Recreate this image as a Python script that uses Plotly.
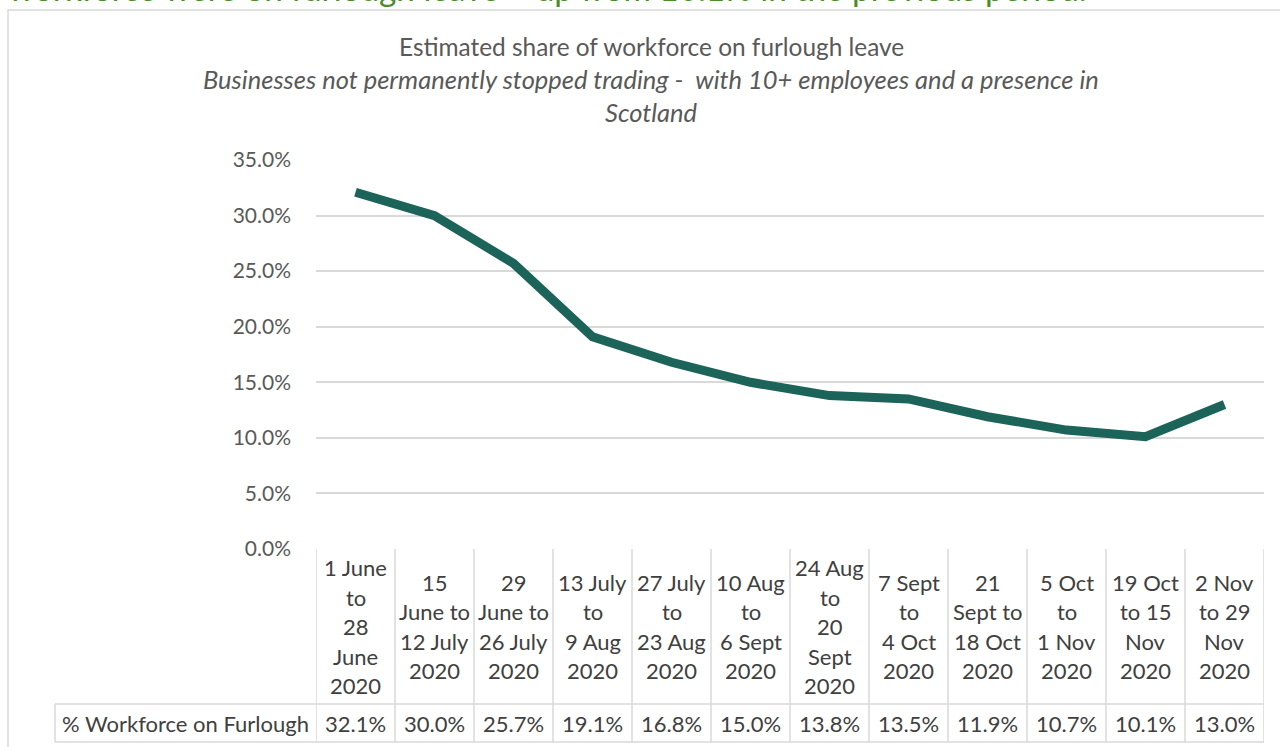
import plotly.graph_objects as go

# Reporting periods (each line of a table header cell separated by "|")
periods = [
    "1 June|to|28|June|2020",
    "15|June to|12 July|2020",
    "29|June to|26 July|2020",
    "13 July|to|9 Aug|2020",
    "27 July|to|23 Aug|2020",
    "10 Aug|to|6 Sept|2020",
    "24 Aug|to|20|Sept|2020",
    "7 Sept|to|4 Oct|2020",
    "21|Sept to|18 Oct|2020",
    "5 Oct|to|1 Nov|2020",
    "19 Oct|to 15|Nov|2020",
    "2 Nov|to 29|Nov|2020",
]
furlough_pct = [32.1, 30.0, 25.7, 19.1, 16.8, 15.0, 13.8, 13.5, 11.9, 10.7, 10.1, 13.0]
series_name = "% Workforce on Furlough"
y_ticks = [0, 5, 10, 15, 20, 25, 30, 35]

headline = "workforce were on furlough leave \u2013 up from 10.1% in the previous period."
title = "Estimated share of workforce on furlough leave"
subtitle_lines = [
    "Businesses not permanently stopped trading -  with 10+ employees and a presence in",
    "Scotland",
]

W, H = 1280, 747
L, R, T, B = 316, 16, 160, 198
PLOT_H = H - T - B
PLOT_W = W - L - R
FONT = "Lato"
GRID = "#d9d9d9"
TXT = "#595959"
TABLE_TXT = "#404040"
LINE = "#1c6359"
TABLE_SIZE = 22


def py(px):
    """Pixel row -> paper y."""
    return (H - B - px) / PLOT_H


def pxx(px):
    """Pixel column -> paper x."""
    return (px - L) / PLOT_W


cats = [p.replace("|", " ") for p in periods]

fig = go.Figure()
fig.add_trace(go.Scatter(
    x=list(range(len(cats))), y=furlough_pct, mode="lines", name=series_name,
    line=dict(color=LINE, width=9, shape="linear"),
    hoverinfo="skip", showlegend=False,
))

annotations = []
shapes = []

# Headline text running off the top of the page
annotations.append(dict(
    text=headline, xref="paper", yref="paper", x=pxx(6), y=py(10),
    xanchor="left", yanchor="bottom", showarrow=False,
    font=dict(family=FONT, size=33.3, color="#4b8b2b"),
))

# Chart title and italic subtitle
cx = pxx(651)
annotations.append(dict(
    text=title, xref="paper", yref="paper", x=cx, y=py(46),
    xanchor="center", yanchor="middle", showarrow=False,
    font=dict(family=FONT, size=24.4, color=TXT),
))
for i, line in enumerate(subtitle_lines):
    annotations.append(dict(
        text="<i>" + line + "</i>", xref="paper", yref="paper", x=cx, y=py(79 + 33 * i),
        xanchor="center", yanchor="middle", showarrow=False,
        font=dict(family=FONT, size=25.5, color=TXT),
    ))

# Data table under the plot: header row of periods, one row of values
HDR_TOP, HDR_BOT, ROW_BOT = 549, 704, 742
LINE_GAP = 29.5
hdr_mid = (HDR_TOP + HDR_BOT) / 2
for i, p in enumerate(periods):
    parts = p.split("|")
    n = len(parts)
    for j, part in enumerate(parts):
        yc = hdr_mid + (j - (n - 1) / 2) * LINE_GAP
        annotations.append(dict(
            text=part, xref="x", yref="paper", x=i, y=py(yc),
            xanchor="center", yanchor="middle", showarrow=False,
            font=dict(family=FONT, size=TABLE_SIZE, color=TABLE_TXT),
        ))
    annotations.append(dict(
        text=f"{furlough_pct[i]:.1f}%", xref="x", yref="paper", x=i, y=py((HDR_BOT + ROW_BOT) / 2),
        xanchor="center", yanchor="middle", showarrow=False,
        font=dict(family=FONT, size=TABLE_SIZE, color=TABLE_TXT),
    ))

LABEL_LEFT = 55
annotations.append(dict(
    text=series_name, xref="paper", yref="paper", x=pxx((LABEL_LEFT + L) / 2),
    y=py((HDR_BOT + ROW_BOT) / 2), xanchor="center", yanchor="middle", showarrow=False,
    font=dict(family=FONT, size=TABLE_SIZE, color=TABLE_TXT),
))

# Table grid
gl = dict(color=GRID, width=1.5)
for k in range(len(periods) + 1):
    shapes.append(dict(type="line", xref="x", yref="paper", x0=k - 0.5, x1=k - 0.5,
                       y0=py(HDR_TOP), y1=py(ROW_BOT), line=gl))
shapes.append(dict(type="line", xref="paper", yref="paper", x0=pxx(LABEL_LEFT), x1=1,
                   y0=py(HDR_BOT), y1=py(HDR_BOT), line=gl))
shapes.append(dict(type="line", xref="paper", yref="paper", x0=pxx(LABEL_LEFT), x1=1,
                   y0=py(ROW_BOT), y1=py(ROW_BOT), line=gl))
shapes.append(dict(type="line", xref="paper", yref="paper", x0=pxx(LABEL_LEFT), x1=pxx(LABEL_LEFT),
                   y0=py(HDR_BOT), y1=py(ROW_BOT), line=gl))

# Chart frame
shapes.append(dict(type="rect", xref="paper", yref="paper", x0=pxx(8), x1=pxx(1300),
                   y0=py(10), y1=py(770), line=dict(color=GRID, width=1.5), fillcolor="rgba(0,0,0,0)",
                   layer="below"))

fig.update_layout(
    width=W, height=H,
    margin=dict(l=L, r=R, t=T, b=B, pad=0),
    paper_bgcolor="white", plot_bgcolor="white",
    font=dict(family=FONT, size=20, color=TXT),
    xaxis=dict(range=[-0.5, len(cats) - 0.5], showticklabels=False, showgrid=False,
               zeroline=False, showline=False, ticks="", fixedrange=True),
    yaxis=dict(range=[0, 35], tickvals=y_ticks, ticktext=[f"{v:.1f}%" for v in y_ticks],
               showgrid=True, gridcolor=GRID, gridwidth=1.5, zeroline=False, showline=False,
               ticks="", ticklabelstandoff=24, tickfont=dict(family=FONT, size=21, color=TXT),
               fixedrange=True),
    annotations=annotations,
    shapes=shapes,
    showlegend=False,
)

fig.write_html("out.html", config={"displayModeBar": False})
